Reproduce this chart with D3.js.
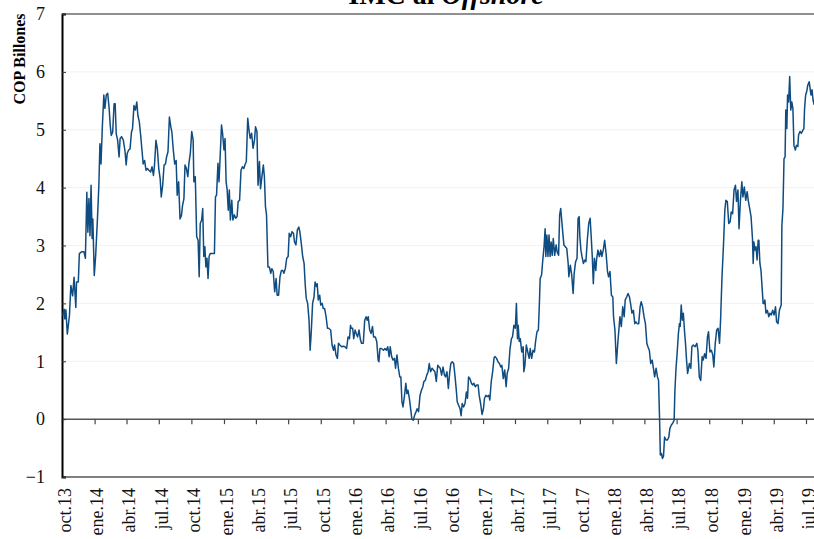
<!DOCTYPE html>
<meta charset="utf-8">
<body style="margin:0;background:#fff">
<div id="chart"></div>
<script src="https://cdn.jsdelivr.net/npm/d3@7"></script>
<script>
// fecha base de la serie y días transcurridos desde ella
var startDate = "2013-10-01";
var dayOffset = [
  2,6,8,11,15,21,25,30,34,39,41,46,49,55,62,66,70,73,76,79,82,85,87,91,95,100,104,107,110,114,118,121,125,129,133,136,139,143,147,150,153,157,161,164,168,173,178,181,184,188,192,196,199,203,207,211,214,218,222,226,229,233,237,241,245,250,254,258,261,265,269,273,277,280,284,288,292,295,299,303,307,310,314,318,322,325,329,333,337,340,344,
  347,351,355,358,362,366,370,372,376,380,384,387,390,394,397,400,403,406,409,412,415,418,422,430,433,436,440,443,447,450,453,457,460,463,466,469,472,475,479,482,486,490,494,497,501,505,509,513,516,520,524,528,531,535,539,543,546,550,553,557,560,564,568,571,574,577,581,585,589,592,596,600,604,607,611,615,619,623,626,630,634,638,641,645,649,653,656,660,664,668,671,675,679,683,686,689,693,697,700,
  703,707,711,714,718,720,723,727,730,734,737,741,745,749,752,758,762,766,769,773,777,780,784,789,794,798,803,807,811,814,816,820,823,827,830,834,838,842,845,850,854,858,861,864,868,872,876,879,884,888,892,894,897,901,907,911,915,919,923,926,930,934,938,941,945,949,953,956,959,962,966,970,973,976,980,984,987,991,995,999,1002,1006,1010,1014,1018,1021,1025,1029,1033,1036,1040,1044,1048,
  1052,1056,1060,1064,1067,1071,1075,1079,1082,1086,1090,1094,1097,1101,1105,1109,1112,1115,1119,1123,1126,1129,1133,1137,1141,1144,1147,1151,1155,1159,1162,1166,1170,1174,1177,1181,1185,1189,1192,1196,1200,1204,1207,1211,1215,1219,1222,1226,1230,1234,1238,1241,1245,1249,1253,1256,1260,1264,1268,1271,1275,1279,1282,1285,1287,1290,1293,1297,1301,1303,1306,1310,1314,1318,1321,1325,1329,1333,1336,1340,1344,1347,1349,1353,1356,1360,1363,1365,1368,1371,1374,1377,1380,1383,1386,1390,1394,1397,1401,1404,1407,
  1413,1416,1420,1424,1428,1430,1434,1438,1442,1445,1449,1453,1456,1459,1461,1464,1467,1471,1475,1478,1482,1486,1490,1493,1496,1499,1502,1506,1508,1512,1516,1520,1523,1527,1531,1535,1539,1542,1546,1550,1554,1556,1560,1564,1568,1571,1574,1578,1582,1586,1589,1593,1597,1601,1604,1608,1612,1616,1619,1623,1627,1631,1634,1638,1642,1646,1650,1653,1657,1661,1665,1668,1672,1676,1680,1683,1686,1688,1691,1694,1697,1700,1704,1708,1712,1715,1719,1723,1727,1729,1732,1736,1739,1742,1744,1747,1750,1753,1756,1759,
  1762,1765,1770,1774,1777,1781,1786,1791,1794,1798,1802,1806,1809,1813,1817,1821,1824,1828,1832,1836,1839,1843,1847,1851,1855,1858,1862,1866,1870,1873,1877,1881,1885,1888,1892,1896,1900,1903,1907,1910,1914,1918,1921,1925,1929,1933,1936,1940,1944,1948,1950,1952,1955,1958,1961,1964,1966,1969,1972,1975,1978,1981,1983,1986,1990,1994,1997,2001,2005,2009,2013,2016,2020,2024,
  2029,2031,2034,2037,2040,2042,2045,2047,2050,2053,2056,2059,2062,2065,2069,2072,2076,2078,2082,2086,2090,2093,2095,2098,2101,2104,2108,2110,2113,2116,2119,2122
];
// IMC al Offshore, billones de COP
var imc = [
  1.79,1.90,1.73,1.89,1.47,1.79,2.31,2.13,2.45,1.93,2.37,2.37,2.86,2.89,2.89,2.78,3.92,3.23,3.81,3.17,4.04,3.12,3.46,2.48,2.83,3.46,4.04,4.76,4.41,5.08,5.60,5.37,5.60,5.63,5.37,5.08,4.90,4.96,5.45,5.45,4.93,4.82,4.53,4.85,4.88,4.82,4.62,4.39,4.59,4.65,4.67,4.96,5.02,5.42,5.34,5.48,5.25,5.14,4.90,4.62,4.41,4.47,4.30,4.33,4.30,4.27,4.36,4.21,4.39,4.82,4.67,4.33,4.15,3.84,4.04,4.39,4.41,4.53,4.62,5.22,5.05,4.96,4.65,4.41,4.47,3.87,4.10,3.46,3.52,3.69,3.81,
  4.39,4.33,4.19,4.42,4.59,4.97,4.82,4.10,4.19,3.15,3.09,2.46,3.38,3.44,3.64,2.81,2.98,2.63,2.78,2.43,2.81,2.86,2.86,2.86,3.84,3.87,4.42,4.10,4.65,5.08,4.94,4.65,4.85,4.10,3.96,3.61,3.96,3.44,3.78,3.44,3.53,3.47,3.50,3.76,3.78,4.30,4.36,4.33,4.39,4.45,5.20,4.97,4.85,4.94,4.68,4.82,5.05,4.97,4.04,4.45,3.98,4.19,4.39,4.19,3.67,3.53,2.63,2.63,2.52,2.60,2.55,2.20,2.43,2.14,2.14,2.46,2.57,2.57,2.52,2.60,2.78,2.81,3.21,3.15,3.24,3.21,3.06,3.01,3.27,3.32,3.24,3.04,2.81,2.69,2.34,2.09,2.00,1.71,1.19,
  1.48,2.00,2.11,2.37,2.29,2.34,2.06,2.14,1.97,2.00,1.91,1.91,1.77,1.57,1.57,1.54,1.28,1.19,1.28,1.11,1.05,1.31,1.28,1.25,1.26,1.25,1.22,1.42,1.39,1.62,1.57,1.57,1.39,1.54,1.48,1.42,1.54,1.37,1.31,1.31,1.71,1.77,1.71,1.77,1.54,1.48,1.60,1.42,1.42,1.34,1.02,0.99,1.22,1.22,1.19,1.22,1.19,1.25,1.08,1.25,1.08,1.02,1.05,0.88,1.11,0.88,0.73,0.73,0.30,0.21,0.39,0.62,0.44,0.50,0.36,0.16,0.00,-0.02,0.07,0.13,0.18,0.13,0.41,0.50,0.56,0.65,0.67,0.76,0.82,0.96,0.82,0.88,0.85,
  0.82,0.65,0.93,0.90,0.88,0.76,0.90,0.76,0.73,0.82,0.53,0.82,0.96,0.99,0.96,0.73,0.53,0.30,0.24,0.18,0.06,0.27,0.21,0.27,0.47,0.36,0.73,0.70,0.62,0.59,0.62,0.56,0.59,0.59,0.41,0.27,0.08,0.18,0.36,0.41,0.39,0.41,0.33,0.65,0.82,1.06,1.08,1.05,0.99,0.96,0.90,0.93,0.70,0.85,0.56,0.79,0.88,1.22,1.39,1.42,1.62,1.57,2.00,1.39,1.62,1.34,1.39,1.16,1.25,0.82,0.93,1.28,1.16,1.05,1.22,1.05,1.19,1.16,1.34,1.51,1.54,2.03,2.43,2.49,2.72,2.98,3.29,2.81,3.18,2.81,3.18,2.81,3.06,2.83,3.12,2.83,3.01,2.89,2.83,3.53,3.64,
  3.21,3.01,2.98,2.95,2.69,2.46,2.66,2.49,2.17,2.52,2.72,2.78,3.47,3.50,3.15,2.92,2.81,2.69,2.75,2.72,3.09,3.38,3.47,3.15,2.81,2.34,2.78,2.57,2.75,2.92,2.81,2.92,2.81,2.92,3.09,2.86,2.55,2.46,2.55,2.14,2.11,1.77,1.54,0.96,1.31,1.54,1.77,1.60,1.94,1.77,2.06,2.11,2.17,2.11,2.00,1.83,1.88,1.65,1.68,1.65,1.65,1.94,2.03,1.94,1.77,1.65,1.31,1.25,1.19,0.96,1.02,0.90,0.73,0.88,0.73,0.67,-0.02,-0.62,-0.59,-0.68,-0.64,-0.31,-0.36,-0.36,-0.31,-0.16,-0.10,-0.07,-0.02,0.47,0.85,1.19,1.48,1.65,1.60,1.97,1.71,1.83,1.54,1.31,
  1.02,0.79,0.96,0.88,1.25,1.28,1.25,1.31,1.19,0.73,0.67,1.08,1.02,1.13,1.05,1.42,1.51,1.16,1.19,1.11,0.90,1.31,1.54,1.57,1.31,1.71,2.46,2.98,3.61,3.78,3.76,3.38,3.41,3.58,3.55,3.96,4.04,3.76,3.96,3.29,3.78,4.10,3.84,4.01,3.78,3.93,3.78,3.64,3.50,3.12,2.69,3.06,2.92,2.98,2.75,3.09,3.09,2.69,2.57,2.29,2.00,2.00,2.06,1.83,1.88,1.77,1.83,1.80,1.88,1.80,1.94,1.68,1.65,1.88,
  1.97,3.35,3.64,4.50,4.53,5.34,5.02,5.60,5.48,5.92,5.34,5.48,5.37,4.73,4.65,4.73,4.71,4.91,4.97,4.94,4.99,5.02,5.37,5.60,5.66,5.77,5.83,5.74,5.60,5.69,5.51,5.43
];
var yTicks = [-1, 0, 1, 2, 3, 4, 5, 6, 7];
var meses = ["ene","feb","mar","abr","may","jun","jul","ago","sep","oct","nov","dic"];

var width = 814, height = 539;
var margin = {top: 14, left: 62, bottom: 62};
var font = "'Liberation Serif', 'Times New Roman', serif";

var svg = d3.select("#chart").append("svg")
    .attr("width", width)
    .attr("height", height)
    .style("font-family", font);

var parse = d3.timeParse("%Y-%m-%d");
var t0 = parse(startDate);
var data = dayOffset.map(function(d, i) {
  return { date: d3.timeDay.offset(t0, d), value: imc[i] };
});

var x = d3.scaleTime()
    .domain([parse("2013-10-01"), parse("2019-07-01")])
    .range([margin.left, 806]);
var y = d3.scaleLinear()
    .domain([-1, 7])
    .range([height - margin.bottom, margin.top]);

// lineas guia muy tenues
svg.append("g").selectAll("line")
  .data(yTicks.filter(function(d) { return d > -1 && d < 7 && d != 0; }))
  .enter().append("line")
    .attr("x1", margin.left).attr("x2", width)
    .attr("y1", function(d) { return y(d); })
    .attr("y2", function(d) { return y(d); })
    .attr("stroke", "#f2f2f2");

// borde superior e inferior
svg.append("line")
    .attr("x1", margin.left).attr("x2", width)
    .attr("y1", y(7)).attr("y2", y(7))
    .attr("stroke", "#6b6b6b").attr("stroke-width", 1.5);
svg.append("line")
    .attr("x1", margin.left).attr("x2", width)
    .attr("y1", y(-1)).attr("y2", y(-1))
    .attr("stroke", "#555").attr("stroke-width", 1.5);

var quarters = d3.timeMonth.every(3).range(parse("2013-10-01"), parse("2019-07-02"));

// eje en cero con marcas trimestrales
var xZero = svg.append("g")
    .attr("transform", "translate(0," + y(0) + ")")
    .call(d3.axisBottom(x).tickValues(quarters).tickSize(5).tickFormat(""));
xZero.select(".domain").attr("d", "M" + margin.left + ",0H" + width)
    .attr("stroke", "#555").attr("stroke-width", 1.5);
xZero.selectAll(".tick line").attr("stroke", "#444").attr("stroke-width", 1.2);

// etiquetas de fecha abajo
var xLab = svg.append("g")
    .attr("transform", "translate(0," + y(-1) + ")")
    .call(d3.axisBottom(x).tickValues(quarters).tickSize(0)
      .tickFormat(function(d) { return meses[d.getMonth()] + "." + d3.timeFormat("%y")(d); }));
xLab.select(".domain").remove();
xLab.selectAll("text")
    .attr("transform", "rotate(-90)")
    .attr("text-anchor", "end")
    .attr("x", -11)
    .attr("y", 2)
    .attr("dy", "0.35em")
    .style("font-family", font)
    .style("font-size", "18px")
    .attr("fill", "#111");

// eje y
var yAxis = svg.append("g")
    .attr("transform", "translate(" + margin.left + ",0)")
    .call(d3.axisLeft(y).tickValues(yTicks).tickSize(-4).tickPadding(17));
yAxis.select(".domain").attr("stroke", "#000").attr("stroke-width", 2);
yAxis.selectAll(".tick line").attr("stroke", "#333");
yAxis.selectAll("text")
    .style("font-family", font)
    .style("font-size", "18px")
    .attr("fill", "#111");

// la serie
svg.append("path")
    .datum(data)
    .attr("fill", "none")
    .attr("stroke", "#0f4c81")
    .attr("stroke-width", 1.5)
    .attr("stroke-linejoin", "round")
    .attr("d", d3.line()
      .x(function(d) { return x(d.date); })
      .y(function(d) { return y(d.value); }));

// titulo (cortado arriba como en el original)
var title = svg.append("text")
    .attr("x", 446)
    .attr("y", 4)
    .attr("text-anchor", "middle")
    .style("font-size", "28px")
    .style("font-weight", "bold");
title.append("tspan").text("IMC al ");
title.append("tspan").style("font-style", "italic").text("Offshore");

// titulo eje y
svg.append("text")
    .attr("transform", "translate(25,59) rotate(-90)")
    .attr("text-anchor", "middle")
    .style("font-size", "16px")
    .style("font-weight", "bold")
    .text("COP Billones");
</script>
</body>
